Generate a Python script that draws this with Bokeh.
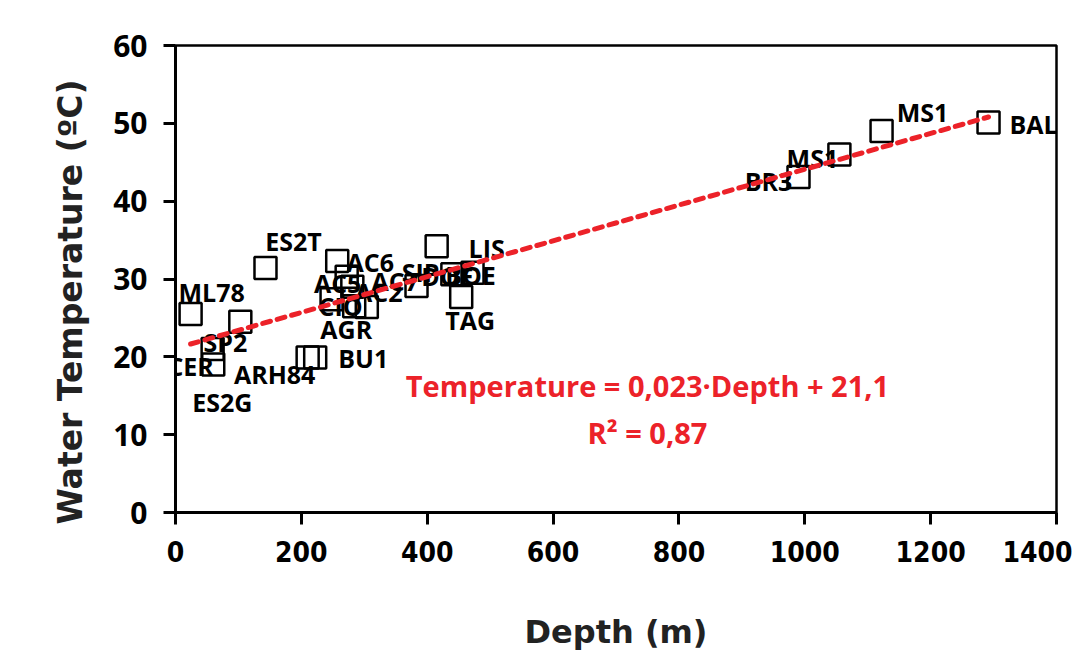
from bokeh.plotting import figure
from bokeh.models import FixedTicker, Range1d, Label, LabelSet, ColumnDataSource
from bokeh.core.properties import value
from bokeh.embed import file_html
from bokeh.resources import INLINE

# ---- data ----
site_labels = ["ML78", "ES2T", "SP2", "CER", "ES2G", "ARH84", "BU1",
               "AC6", "AC5", "AC7", "CIO", "AGR", "AC2",
               "SIP", "LIS", "DOE", "BOE", "TAG",
               "BR3", "MS1", "MS1", "BAL"]
depth_m = [24, 143, 103, 59, 60, 210, 222,
           257, 272, 281, 248, 284, 304,
           383, 415, 440, 472, 454,
           990, 1055, 1122, 1292]
temperature_c = [25.5, 31.4, 24.5, 21.0, 19.0, 19.9, 19.9,
                 32.3, 30.3, 29.0, 27.4, 26.5, 26.4,
                 29.1, 34.2, 30.6, 30.8, 27.7,
                 43.1, 46.0, 49.0, 50.1]
# label placement relative to each marker (screen pixels, + = right / down)
label_dx = [21, 28, -15, -22, 9, -33, 48,
            33, -9, 43, 9, -8, 12,
            4, 50, -5, -2, 9,
            -30, -27, 41, 45]
label_dy = [-22, -27, 20, 17, 37, 16, 0,
            1, 6, -6, 7, 23, -15,
            -14, 2, 2, 2, 23,
            4, 4, -19, 1]

slope = 0.023
intercept = 21.1
r_squared = 0.87

x_ticks = [0, 200, 400, 600, 800, 1000, 1200, 1400]
y_ticks = [0, 10, 20, 30, 40, 50, 60]

RED = "#EC2229"

src = ColumnDataSource(dict(x=depth_m, y=temperature_c, label=site_labels,
                            dx=label_dx, dy_up=[-d for d in label_dy]))

p = figure(width=1072, height=653, output_backend="svg", toolbar_location=None,
           x_range=Range1d(0, 1400), y_range=Range1d(0, 60),
           min_border_left=175, min_border_right=16, min_border_top=45,
           min_border_bottom=140)
p.xgrid.visible = False
p.ygrid.visible = False
p.outline_line_color = "black"
p.outline_line_width = 2.5
p.background_fill_color = "white"
p.border_fill_color = "white"

# markers
p.scatter("x", "y", source=src, marker="square", size=22,
          fill_color=None, line_color="black", line_width=2.5)

# data labels
p.add_layout(LabelSet(x="x", y="y", text="label", source=src,
                      x_offset="dx", y_offset="dy_up",
                      text_align="center", text_baseline="middle",
                      text_font=value("Open Sans"), text_font_style="bold",
                      text_font_size="25px", text_color="black"))

# trend line from the fitted equation
x0, x1 = min(depth_m), max(depth_m)
p.line([x0, x1], [slope * x0 + intercept, slope * x1 + intercept],
       line_color=RED, line_width=5, line_dash="8 7", line_cap="round",
       level="overlay")

# equation text
p.add_layout(Label(x=750, y=16.3, text="Temperature = 0,023·Depth + 21,1",
                   text_align="center", text_baseline="middle",
                   text_font="Open Sans", text_font_style="bold",
                   text_font_size="29px", text_color=RED))
p.add_layout(Label(x=750, y=10.3, text="R² = 0,87",
                   text_align="center", text_baseline="middle",
                   text_font="Open Sans", text_font_style="bold",
                   text_font_size="29px", text_color=RED))

# axes
for ax in (p.xaxis[0], p.yaxis[0]):
    ax.axis_line_color = "black"
    ax.axis_line_width = 3
    ax.major_tick_line_color = "black"
    ax.major_tick_line_width = 3
    ax.major_tick_out = 12
    ax.major_tick_in = 0
    ax.minor_tick_line_color = None
    ax.major_label_text_color = "black"
    ax.axis_label_text_font_style = "bold"
    ax.axis_label_text_color = "#222222"

p.xaxis.ticker = FixedTicker(ticks=x_ticks)
p.yaxis.ticker = FixedTicker(ticks=y_ticks)

p.xaxis.axis_label = "Depth (m)"
p.xaxis.axis_label_text_font = "DejaVu Sans"
p.xaxis.axis_label_text_font_size = "32px"
p.xaxis.axis_label_standoff = 48
p.xaxis.major_label_text_font = "DejaVu Sans Condensed"
p.xaxis.major_label_text_font_style = "bold"
p.xaxis.major_label_text_font_size = "28px"
p.xaxis.major_label_standoff = 16

p.yaxis.axis_label = "Water Temperature (ºC)\u00a0\u00a0\u00a0\u00a0"
p.yaxis.axis_label_text_font = "DejaVu Sans"
p.yaxis.axis_label_text_font_size = "33px"
p.yaxis.axis_label_standoff = 20
p.yaxis.major_label_text_font = "Open Sans"
p.yaxis.major_label_text_font_style = "bold"
p.yaxis.major_label_text_font_size = "30px"
p.yaxis.major_label_standoff = 16

open("out.html", "w").write(file_html(p, INLINE))
